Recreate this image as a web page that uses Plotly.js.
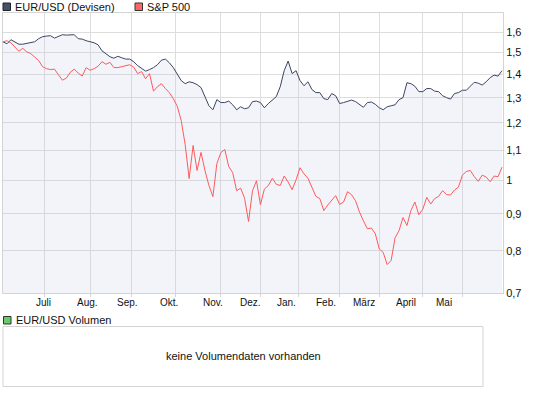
<!DOCTYPE html>
<html><head><meta charset="utf-8">
<script src="https://cdn.plot.ly/plotly-3.0.1.min.js"></script>
<style>html,body{margin:0;padding:0;background:#fff;}#chart{width:545px;height:395px;}</style>
</head><body><div id="chart"></div>
<script>
// EUR/USD (Devisen), every 2nd trading day, Jun 2008 - May 2009
const eurUsd = [
1.552,1.542,1.562,1.550,1.540,1.540,1.545,1.547,1.552,1.567,
1.577,1.580,1.582,1.570,1.577,1.587,1.585,1.585,1.587,1.567,
1.565,1.557,1.552,1.547,1.537,1.508,1.494,1.480,1.473,1.482,
1.475,1.469,1.469,1.457,1.439,1.425,1.414,1.421,1.430,1.443,
1.464,1.469,1.452,1.430,1.403,1.372,1.359,1.367,1.363,1.355,
1.342,1.300,1.267,1.251,1.292,1.280,1.280,1.286,1.271,1.251,
1.263,1.255,1.259,1.284,1.286,1.280,1.259,1.276,1.290,1.304,
1.346,1.416,1.460,1.403,1.416,1.372,1.350,1.367,1.334,1.321,
1.321,1.296,1.292,1.317,1.308,1.276,1.280,1.284,1.290,1.284,
1.271,1.261,1.280,1.282,1.273,1.259,1.251,1.263,1.267,1.271,
1.292,1.300,1.363,1.359,1.348,1.325,1.325,1.338,1.338,1.327,
1.325,1.308,1.300,1.294,1.317,1.321,1.331,1.331,1.348,1.365,
1.361,1.353,1.367,1.385,1.396,1.392,1.416];
// S&P 500, rebased to EUR/USD start value
const sp500 = [
1.552,1.557,1.547,1.528,1.506,1.520,1.503,1.495,1.477,1.462,
1.434,1.425,1.421,1.423,1.398,1.374,1.383,1.409,1.423,1.405,
1.392,1.430,1.418,1.425,1.436,1.457,1.445,1.454,1.430,1.430,
1.434,1.439,1.443,1.432,1.403,1.412,1.380,1.403,1.327,1.346,
1.359,1.338,1.321,1.296,1.265,1.209,1.120,1.006,1.117,1.032,
1.093,1.032,0.984,0.950,1.055,1.092,1.103,1.045,1.025,0.968,
0.976,0.945,0.878,0.968,0.999,0.926,0.973,0.984,1.007,0.988,
0.984,1.014,0.995,0.971,1.002,1.041,1.021,1.007,0.976,0.951,
0.944,0.909,0.925,0.938,0.953,0.927,0.934,0.965,0.956,0.938,
0.905,0.880,0.858,0.860,0.845,0.805,0.796,0.766,0.776,0.834,
0.853,0.889,0.867,0.909,0.934,0.897,0.913,0.948,0.928,0.944,
0.951,0.968,0.956,0.955,0.970,0.979,1.017,1.029,1.032,1.012,
0.997,1.017,1.011,0.996,1.014,1.012,1.043];
const tradingDay = eurUsd.map((_, i) => i * 2);
const monthStartDay = [21,44,65,87,110,130,149,170,190,212,232];
const monthLabels = ['Juli','Aug.','Sep.','Okt.','Nov.','Dez.','Jan.','Feb.','März','April','Mai'];
const yTickVals = [0.7,0.8,0.9,1,1.1,1.2,1.3,1.4,1.5,1.6];
const yTickText = ['0,7','0,8','0,9','1','1,1','1,2','1,3','1,4','1,5','1,6'];
const seriesNames = ['EUR/USD (Devisen)','S&P 500'];
const volumeTitle = 'EUR/USD Volumen';
const volumeNote = 'keine Volumendaten vorhanden';

const W = 545, H = 395, ML = 3, MR = 42, MT = 13, MB = 102;
const PW = W - ML - MR, PH = H - MT - MB;
const px = v => (v - ML) / PW;
const py = v => (H - MB - v) / PH;
const font = 'Arial, "Liberation Sans", sans-serif';
const gridC = '#dddddd', lineC = '#d4d4d4';

const traces = [
  {x: tradingDay, y: eurUsd, type: 'scatter', mode: 'lines', name: seriesNames[0],
   line: {color: '#3a4662', width: 1}, fill: 'tozeroy', fillcolor: 'rgba(200,205,232,0.22)', hoverinfo: 'skip'},
  {x: tradingDay, y: sp500, type: 'scatter', mode: 'lines', name: seriesNames[1],
   line: {color: '#ff5a5a', width: 1}, hoverinfo: 'skip'}
];

const shapes = [
  {type: 'rect', xref: 'paper', yref: 'paper', x0: px(3), x1: px(10.5), y0: py(10.5), y1: py(3),
   fillcolor: '#46526b', line: {color: '#222', width: 1}},
  {type: 'rect', xref: 'paper', yref: 'paper', x0: px(135), x1: px(142.5), y0: py(10.5), y1: py(3),
   fillcolor: '#ff6666', line: {color: '#333', width: 1}},
  {type: 'rect', xref: 'paper', yref: 'paper', x0: px(3.5), x1: px(11), y0: py(324), y1: py(316.5),
   fillcolor: '#66cc66', line: {color: '#333', width: 1}},
  {type: 'rect', xref: 'paper', yref: 'paper', x0: px(3), x1: px(483), y0: py(386.5), y1: py(326.5),
   fillcolor: 'rgba(0,0,0,0)', line: {color: lineC, width: 1}}
];

const annotations = [
  {xref: 'paper', yref: 'paper', x: px(13), y: py(6.5), xanchor: 'left', yanchor: 'middle',
   text: seriesNames[0], showarrow: false, font: {family: font, size: 11, color: '#111'}},
  {xref: 'paper', yref: 'paper', x: px(145), y: py(6.5), xanchor: 'left', yanchor: 'middle',
   text: seriesNames[1], showarrow: false, font: {family: font, size: 11, color: '#111'}},
  {xref: 'paper', yref: 'paper', x: px(13.5), y: py(320), xanchor: 'left', yanchor: 'middle',
   text: volumeTitle, showarrow: false, font: {family: font, size: 11, color: '#111'}},
  {xref: 'paper', yref: 'paper', x: px(243), y: py(356), xanchor: 'center', yanchor: 'middle',
   text: volumeNote, showarrow: false, font: {family: font, size: 11, color: '#111'}}
];
monthStartDay.forEach((d, i) => {
  annotations.push({xref: 'x', yref: 'paper', x: d * 0.957 + 0.6, y: 0, xanchor: 'center', yanchor: 'top',
    yshift: -2, text: monthLabels[i], showarrow: false, font: {family: font, size: 10, color: '#111'}});
});

const layout = {
  width: W, height: H, margin: {l: ML, r: MR, t: MT, b: MB, pad: 0},
  paper_bgcolor: '#fff', plot_bgcolor: '#fff', showlegend: false,
  xaxis: {range: [0, 252.5], tickvals: monthStartDay, showticklabels: false, ticks: 'outside',
    ticklen: 3, tickcolor: lineC, showgrid: true, gridcolor: gridC, gridwidth: 1,
    showline: true, mirror: true, linecolor: lineC, linewidth: 1, zeroline: false, fixedrange: true},
  yaxis: {type: 'log', side: 'right', range: [Math.log10(0.7), Math.log10(1.7)],
    tickvals: yTickVals, ticktext: yTickText, ticks: '', showgrid: true, gridcolor: gridC, gridwidth: 1,
    showline: true, mirror: true, linecolor: lineC, linewidth: 1, zeroline: false,
    tickfont: {family: font, size: 11, color: '#111'}, fixedrange: true},
  shapes: shapes, annotations: annotations
};
Plotly.newPlot('chart', traces, layout, {staticPlot: true, displayModeBar: false});
</script>
</body></html>
